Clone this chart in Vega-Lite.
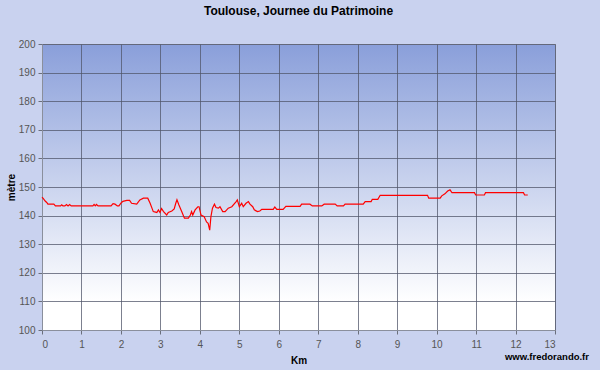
{
  "$schema": "https://vega.github.io/schema/vega-lite/v6.json",
  "width": 513,
  "height": 286,
  "autosize": "none",
  "padding": {"left": 42, "top": 44, "right": 45, "bottom": 40},
  "background": "#c9d2ef",
  "title": {
    "text": "Toulouse, Journee du Patrimoine",
    "font": "Liberation Sans",
    "fontSize": 12,
    "fontWeight": "bold",
    "color": "#000000",
    "offset": 21
  },
  "config": {
    "view": {
      "fill": {
        "gradient": "linear",
        "x1": 0, "y1": 0, "x2": 0, "y2": 1,
        "stops": [
          {"offset": 0, "color": "#8a9fda"},
          {"offset": 0.9, "color": "#ffffff"},
          {"offset": 1, "color": "#ffffff"}
        ]
      },
      "stroke": "#9a9fb0",
      "strokeWidth": 1
    },
    "axis": {
      "labelFont": "Liberation Sans",
      "labelFontSize": 10,
      "labelColor": "#555555",
      "titleFont": "Liberation Sans",
      "titleFontSize": 10,
      "titleFontWeight": "bold",
      "titleColor": "#000000",
      "domainColor": "#8a8f9c",
      "tickColor": "#6a6f7c",
      "tickSize": 4,
      "gridColor": "#50566a",
      "gridOpacity": 0.75,
      "gridWidth": 1
    }
  },
  "datasets": {
    "profile": [
      {"km": 0.00, "alt": 146.4},
      {"km": 0.03, "alt": 146.0},
      {"km": 0.08, "alt": 145.1},
      {"km": 0.12, "alt": 144.6},
      {"km": 0.15, "alt": 144.0},
      {"km": 0.30, "alt": 144.0},
      {"km": 0.34, "alt": 143.4},
      {"km": 0.47, "alt": 143.4},
      {"km": 0.50, "alt": 143.8},
      {"km": 0.53, "alt": 143.4},
      {"km": 0.58, "alt": 143.4},
      {"km": 0.62, "alt": 143.9},
      {"km": 0.66, "alt": 143.4},
      {"km": 0.70, "alt": 143.9},
      {"km": 0.74, "alt": 143.4},
      {"km": 1.29, "alt": 143.4},
      {"km": 1.32, "alt": 143.9},
      {"km": 1.35, "alt": 143.4},
      {"km": 1.38, "alt": 143.9},
      {"km": 1.42, "alt": 143.4},
      {"km": 1.75, "alt": 143.4},
      {"km": 1.80, "alt": 144.2},
      {"km": 1.85, "alt": 144.0},
      {"km": 1.91, "alt": 143.4},
      {"km": 1.95, "alt": 143.4},
      {"km": 2.01, "alt": 144.5},
      {"km": 2.05, "alt": 145.0},
      {"km": 2.15, "alt": 145.3},
      {"km": 2.22, "alt": 145.3},
      {"km": 2.27, "alt": 144.3},
      {"km": 2.40, "alt": 144.0},
      {"km": 2.48, "alt": 145.5},
      {"km": 2.57, "alt": 146.1},
      {"km": 2.68, "alt": 146.1},
      {"km": 2.74, "alt": 144.3},
      {"km": 2.82, "alt": 141.4},
      {"km": 2.91, "alt": 141.1},
      {"km": 2.95, "alt": 142.0},
      {"km": 2.99, "alt": 141.1},
      {"km": 3.03, "alt": 142.5},
      {"km": 3.08, "alt": 141.4},
      {"km": 3.16, "alt": 140.2},
      {"km": 3.20, "alt": 141.1},
      {"km": 3.29, "alt": 141.6},
      {"km": 3.35, "alt": 142.3},
      {"km": 3.39, "alt": 144.3},
      {"km": 3.42, "alt": 145.5},
      {"km": 3.47, "alt": 143.7},
      {"km": 3.54, "alt": 141.4},
      {"km": 3.61, "alt": 139.1},
      {"km": 3.71, "alt": 139.1},
      {"km": 3.76, "alt": 140.2},
      {"km": 3.79, "alt": 141.4},
      {"km": 3.82, "alt": 140.2},
      {"km": 3.88, "alt": 142.0},
      {"km": 3.95, "alt": 143.1},
      {"km": 3.98, "alt": 143.1},
      {"km": 4.03, "alt": 140.2},
      {"km": 4.11, "alt": 139.6},
      {"km": 4.17, "alt": 137.8},
      {"km": 4.21, "alt": 137.3},
      {"km": 4.25, "alt": 134.9},
      {"km": 4.28, "alt": 139.6},
      {"km": 4.32, "alt": 142.6},
      {"km": 4.37, "alt": 144.0},
      {"km": 4.41, "alt": 142.8},
      {"km": 4.47, "alt": 142.6},
      {"km": 4.51, "alt": 143.1},
      {"km": 4.58, "alt": 141.4},
      {"km": 4.64, "alt": 141.4},
      {"km": 4.72, "alt": 142.6},
      {"km": 4.81, "alt": 143.1},
      {"km": 4.92, "alt": 144.9},
      {"km": 4.95, "alt": 145.5},
      {"km": 5.00, "alt": 143.1},
      {"km": 5.06, "alt": 144.3},
      {"km": 5.10, "alt": 143.1},
      {"km": 5.17, "alt": 144.3},
      {"km": 5.23, "alt": 144.9},
      {"km": 5.27, "alt": 144.0},
      {"km": 5.34, "alt": 143.1},
      {"km": 5.38, "alt": 142.0},
      {"km": 5.46, "alt": 141.4},
      {"km": 5.52, "alt": 141.6},
      {"km": 5.57, "alt": 142.2},
      {"km": 5.86, "alt": 142.2},
      {"km": 5.90, "alt": 143.0},
      {"km": 5.95, "alt": 142.2},
      {"km": 6.11, "alt": 142.2},
      {"km": 6.18, "alt": 143.2},
      {"km": 6.54, "alt": 143.2},
      {"km": 6.58, "alt": 144.0},
      {"km": 6.79, "alt": 144.0},
      {"km": 6.85, "alt": 143.4},
      {"km": 7.09, "alt": 143.4},
      {"km": 7.15, "alt": 144.0},
      {"km": 7.43, "alt": 144.0},
      {"km": 7.48, "alt": 143.4},
      {"km": 7.64, "alt": 143.4},
      {"km": 7.68, "alt": 144.0},
      {"km": 8.14, "alt": 144.0},
      {"km": 8.19, "alt": 144.9},
      {"km": 8.34, "alt": 144.9},
      {"km": 8.37, "alt": 145.7},
      {"km": 8.51, "alt": 145.7},
      {"km": 8.57, "alt": 147.1},
      {"km": 9.77, "alt": 147.1},
      {"km": 9.80, "alt": 146.1},
      {"km": 10.09, "alt": 146.1},
      {"km": 10.13, "alt": 146.9},
      {"km": 10.21, "alt": 147.6},
      {"km": 10.28, "alt": 148.6},
      {"km": 10.34, "alt": 149.0},
      {"km": 10.39, "alt": 148.0},
      {"km": 10.96, "alt": 148.0},
      {"km": 10.99, "alt": 147.2},
      {"km": 11.21, "alt": 147.2},
      {"km": 11.24, "alt": 148.0},
      {"km": 12.20, "alt": 148.0},
      {"km": 12.23, "alt": 147.2},
      {"km": 12.31, "alt": 147.2}
    ],
    "credit": [
      {"km": 13, "alt": 100, "label": "www.fredorando.fr"}
    ]
  },
  "encoding": {
    "x": {
      "field": "km",
      "type": "quantitative",
      "scale": {"domain": [0, 13], "nice": false, "zero": false},
      "axis": {
        "title": "Km",
        "values": [0,1,2,3,4,5,6,7,8,9,10,11,12,13],
        "format": "d",
        "labelPadding": 5,
        "titlePadding": 6,
        "grid": true
      }
    },
    "y": {
      "field": "alt",
      "type": "quantitative",
      "scale": {"domain": [100, 200], "nice": false, "zero": false},
      "axis": {
        "title": "mètre",
        "values": [100,110,120,130,140,150,160,170,180,190,200],
        "labelPadding": 3,
        "titlePadding": 2,
        "grid": true
      }
    }
  },
  "layer": [
    {
      "data": {"name": "profile"},
      "mark": {"type": "line", "color": "#ff0000", "strokeWidth": 1.2, "interpolate": "linear"}
    },
    {
      "data": {"name": "credit"},
      "mark": {"type": "text", "align": "right", "baseline": "middle", "dx": 34, "dy": 27, "font": "Liberation Sans", "fontSize": 9.5, "fontWeight": "bold", "color": "#000000"},
      "encoding": {
        "text": {"field": "label"}
      }
    }
  ]
}
